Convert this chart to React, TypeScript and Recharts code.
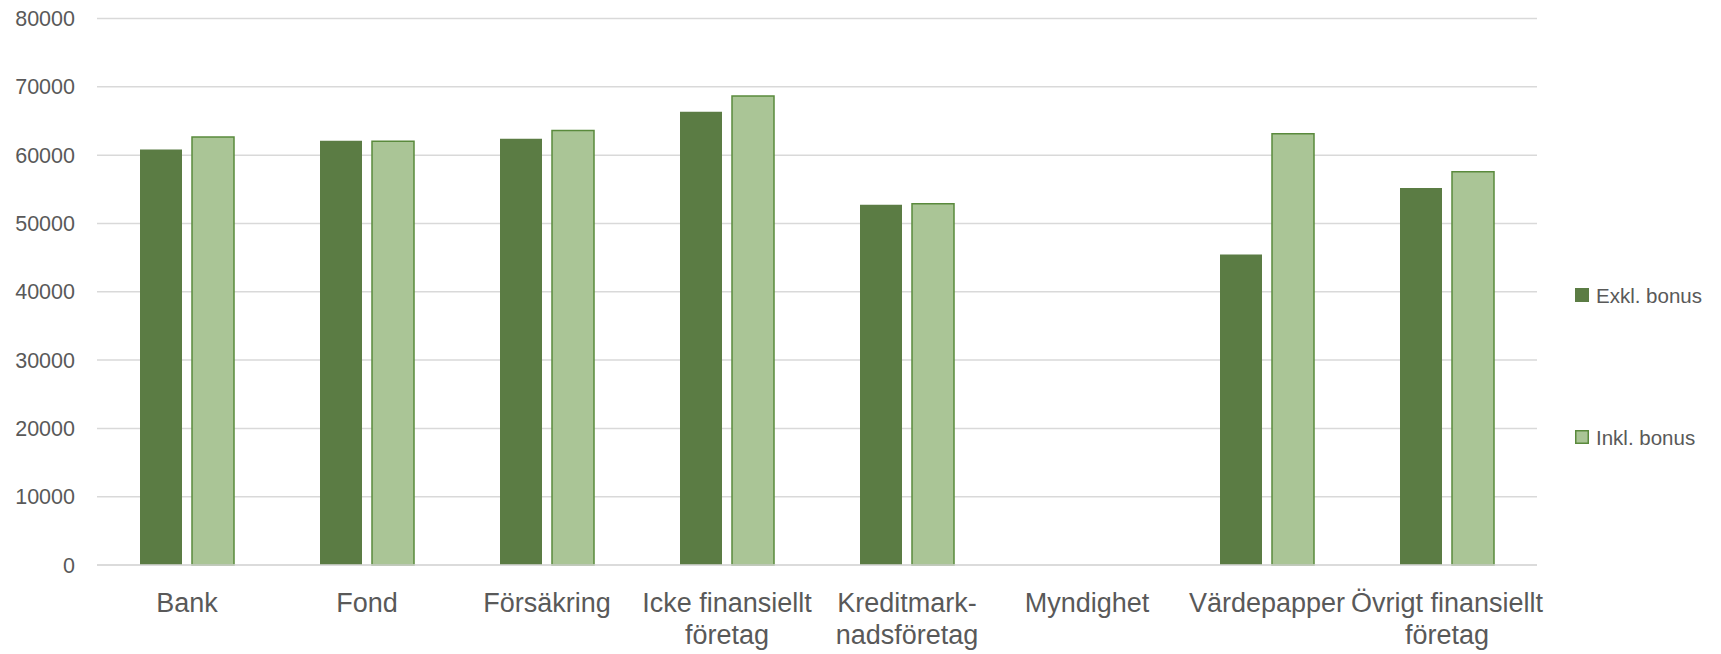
import React from 'react';
import { BarChart, Bar, XAxis, YAxis, CartesianGrid, Legend } from 'recharts';

const categories = [
  'Bank',
  'Fond',
  'Försäkring',
  'Icke finansiellt företag',
  'Kreditmarknadsföretag',
  'Myndighet',
  'Värdepapper',
  'Övrigt finansiellt företag',
];

const tickLabels: string[][] = [
  ['Bank'],
  ['Fond'],
  ['Försäkring'],
  ['Icke finansiellt', 'företag'],
  ['Kreditmark-', 'nadsföretag'],
  ['Myndighet'],
  ['Värdepapper'],
  ['Övrigt finansiellt', 'företag'],
];

const exklBonus: (number | null)[] = [60820, 62090, 62380, 66340, 52750, null, 45460, 55170];
const inklBonus: (number | null)[] = [62670, 62040, 63590, 68640, 52890, null, 63120, 57560];

const yTicks = [0, 10000, 20000, 30000, 40000, 50000, 60000, 70000, 80000];

const seriesNames = ['Exkl. bonus', 'Inkl. bonus'];

const data = categories.map((c, i) => ({
  name: c,
  exkl: exklBonus[i],
  inkl: inklBonus[i],
}));

const DARK = '#5B7C44';
const LIGHT = '#AAC596';
const LIGHT_STROKE = '#5A8A3C';
const TEXT = '#595959';
const FONT = '"Liberation Sans", Arial, sans-serif';

const XTick = (props: any) => {
  const { x, y, index } = props;
  const lines = tickLabels[index] || [String(props.payload?.value ?? '')];
  return (
    <text x={x} y={y} textAnchor="middle" fill={TEXT} fontFamily={FONT} fontSize={27}>
      {lines.map((l, i) => (
        <tspan key={i} x={x} y={y + 47 + i * 32}>
          {l}
        </tspan>
      ))}
    </text>
  );
};

const LegendContent = () => (
  <svg width={146} height={160} style={{ display: 'block', overflow: 'visible' }}>
    <rect x={0} y={0} width={14} height={14} fill={DARK} />
    <text x={21} y={15} fill={TEXT} fontFamily={FONT} fontSize={20.5}>
      {seriesNames[0]}
    </text>
    <rect x={0.75} y={142.75} width={12.5} height={12.5} fill={LIGHT} stroke={LIGHT_STROKE} strokeWidth={1.5} />
    <text x={21} y={157} fill={TEXT} fontFamily={FONT} fontSize={20.5}>
      {seriesNames[1]}
    </text>
  </svg>
);

export default function App() {
  return (
    <div style={{ position: 'absolute', left: 0, top: 0, background: '#fff' }}>
      <BarChart
        width={1721}
        height={654}
        data={data}
        margin={{ top: 18.5, right: 184, bottom: 0, left: 0 }}
        barSize={42}
        barGap={10}
      >
        <CartesianGrid vertical={false} stroke="#D9D9D9" strokeWidth={1.5} />
        <XAxis
          dataKey="name"
          interval={0}
          height={89}
          tickLine={false}
          tickSize={0}
          tickMargin={0}
          axisLine={{ stroke: '#D9D9D9', strokeWidth: 1.5 }}
          tick={<XTick />}
        />
        <YAxis
          width={97}
          domain={[0, 80000]}
          ticks={yTicks}
          interval={0}
          axisLine={false}
          tickLine={false}
          tickSize={0}
          tickMargin={22}
          tick={{ fill: TEXT, fontFamily: FONT, fontSize: 21.5 }}
        />
        <Legend
          layout="vertical"
          align="center"
          verticalAlign="middle"
          wrapperStyle={{ left: 1575, top: 288, width: 146, height: 160 }}
          content={<LegendContent />}
        />
        <Bar dataKey="exkl" name={seriesNames[0]} fill={DARK} isAnimationActive={false} />
        <Bar
          dataKey="inkl"
          name={seriesNames[1]}
          fill={LIGHT}
          stroke={LIGHT_STROKE}
          strokeWidth={1.5}
          isAnimationActive={false}
        />
      </BarChart>
    </div>
  );
}
